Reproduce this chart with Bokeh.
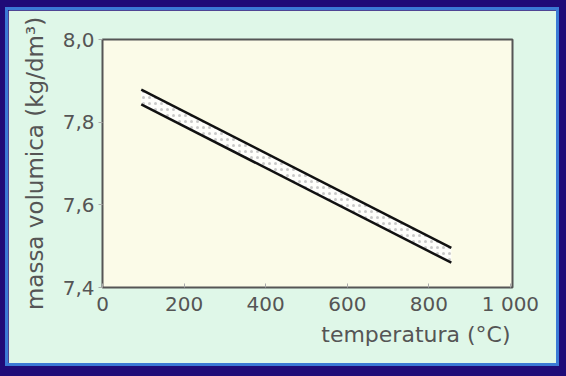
from bokeh.plotting import figure
from bokeh.models import FixedTicker, ColumnDataSource, Title
from bokeh.embed import file_html
from bokeh.resources import INLINE

# data
temp = [95, 855]
upper = [7.879, 7.496]
lower = [7.843, 7.460]

x_ticks = [0, 200, 400, 600, 800, 1000]
x_labels = ["0", "200", "400", "600", "800", "1 000"]
y_ticks = [7.4, 7.6, 7.8, 8.0]
y_labels = ["7,4", "7,6", "7,8", "8,0"]
x_title = "temperatura (°C)"
y_title = "massa volumica (kg/dm³)"

src = ColumnDataSource(dict(x=temp, up=upper, lo=lower))

p = figure(width=548, height=353, output_backend="svg", toolbar_location=None,
           x_range=(0, 1005), y_range=(7.4, 8.0),
           min_border_left=94, min_border_right=44, min_border_top=29, min_border_bottom=76)
p.styles = {"outline": "3px solid #3b7ad6"}
p.border_fill_color = "#dff7e8"
p.background_fill_color = "#fbfbe8"
p.outline_line_color = "#555555"
p.outline_line_width = 2
p.grid.visible = False

p.varea(x="x", y1="lo", y2="up", source=src, fill_color="#ffffff", fill_alpha=0.8,
        hatch_pattern="dot", hatch_color="#bbbbbb", hatch_scale=6, hatch_alpha=0.8)
p.line(x="x", y="up", source=src, line_color="#111111", line_width=2.5)
p.line(x="x", y="lo", source=src, line_color="#111111", line_width=2.5)

tc = "#555555"
font = "DejaVu Sans"

p.xaxis.ticker = FixedTicker(ticks=x_ticks)
p.xaxis.major_label_overrides = {t: l for t, l in zip(x_ticks, x_labels)}
p.yaxis.ticker = FixedTicker(ticks=y_ticks)
p.yaxis.major_label_overrides = {t: l for t, l in zip(y_ticks, y_labels)}

for ax in (p.xaxis, p.yaxis):
    ax.axis_line_color = None
    ax.major_tick_line_color = "#aaaaaa"
    ax.minor_tick_line_color = None
    ax.major_label_text_font = font
    ax.major_label_text_font_size = "20px"
    ax.major_label_text_color = tc
    ax.axis_label_text_font = font
    ax.axis_label_text_font_style = "normal"
    ax.axis_label_text_color = tc

p.xaxis.major_tick_in = 4
p.xaxis.major_tick_out = 0
p.xaxis.major_label_standoff = 4
p.yaxis.major_tick_in = 0
p.yaxis.major_tick_out = 4
p.yaxis.major_label_standoff = 4

p.yaxis.axis_label = y_title
p.yaxis.axis_label_text_font_size = "23px"
p.yaxis.axis_label_standoff = 12

# x title, right-aligned under the frame as in the reference
p.add_layout(Title(text=x_title, align="right", text_font=font, text_font_size="22px",
                   text_font_style="normal", text_color=tc, offset=2, standoff=2), "below")

html = file_html(p, INLINE)
style = ("<style>html, body { background: #1f0b78 !important; } "
         "body { padding: 10px 0 0 8px !important; }</style></head>")
html = html.replace("</head>", style, 1)
open("out.html", "w").write(html)
